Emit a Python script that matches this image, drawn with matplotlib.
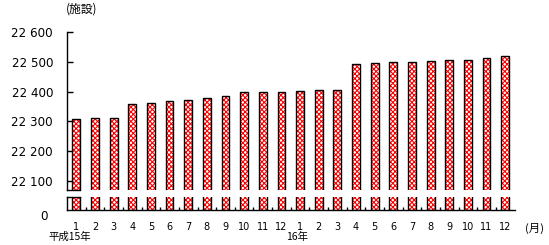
import matplotlib
matplotlib.use("Agg")
import matplotlib.pyplot as plt
import matplotlib.transforms as mtransforms
import numpy as np

months = ["1", "2", "3", "4", "5", "6", "7", "8", "9", "10", "11", "12",
          "1", "2", "3", "4", "5", "6", "7", "8", "9", "10", "11", "12"]
values = [22307, 22310, 22313, 22357, 22363, 22370, 22373, 22377, 22385, 22398, 22398, 22398,
          22401, 22405, 22405, 22492, 22496, 22499, 22499, 22502, 22506, 22506, 22513, 22519]
year_labels = ["平成15年", "16年"]
year_pos = [0, 12]
yticks = [22100, 22200, 22300, 22400, 22500, 22600]
ytick_labels = ["22 100", "22 200", "22 300", "22 400", "22 500", "22 600"]

W, H = 549, 245
fig = plt.figure(figsize=(W / 100, H / 100), dpi=100)
fig.patch.set_facecolor("white")

L, R = 67 / W, 514.5 / W
ax_top = fig.add_axes([L, 1 - 190 / H, R - L, (190 - 32) / H])
ax_bot = fig.add_axes([L, 1 - 210 / H, R - L, 13 / H])

plt.rcParams["hatch.linewidth"] = 0.8
x = np.arange(len(values))
bw = 0.42
cjk = ["Noto Sans CJK JP", "DejaVu Sans"]

for ax in (ax_top, ax_bot):
    ax.bar(x, values, width=bw, facecolor="white", edgecolor="#ff0000",
           hatch="xxxxxxx", linewidth=0)
    ax.bar(x, values, width=bw, fill=False, edgecolor="black", linewidth=1.0)
    ax.set_xlim(-0.5, len(values) - 0.5)
    for s in ("top", "right"):
        ax.spines[s].set_visible(False)
    ax.spines["left"].set_linewidth(1.0)

ax_top.set_ylim(22070, 22600)
ax_top.spines["bottom"].set_visible(False)
ax_top.set_yticks(yticks)
ax_top.set_yticklabels(ytick_labels, fontsize=8.6, family="DejaVu Sans")
ax_top.tick_params(axis="y", direction="in", length=4, width=1.0, pad=10)
ax_top.set_xticks([])
ax_top.plot([-0.5, bw / 2], [22070, 22070], color="black", lw=1.0, clip_on=False)

ax_bot.set_ylim(0, 44)
ax_bot.spines["bottom"].set_linewidth(1.0)
ax_bot.set_yticks([0])
ax_bot.set_yticklabels(["0"], fontsize=8.6, family="DejaVu Sans")
for lab in ax_bot.get_yticklabels():
    lab.set_va("top")
ax_bot.tick_params(axis="y", length=0, pad=14)
ax_bot.set_xticks(x)
ax_bot.set_xticklabels(months, fontsize=7, family="DejaVu Sans")
ax_bot.tick_params(axis="x", which="major", length=0, pad=9)
ax_bot.set_xticks(np.arange(0.5, len(values) - 0.5, 1), minor=True)
ax_bot.tick_params(axis="x", which="minor", direction="in", length=2, width=1.0)
ax_bot.plot([-0.5, bw / 2], [44, 44], color="black", lw=1.0, clip_on=False)

trans = mtransforms.blended_transform_factory(ax_bot.transData, fig.transFigure)
for lbl, p in zip(year_labels, year_pos):
    ax_bot.text(p - (0.35 if p == 0 else 0.15), 1 - 237 / H, lbl, transform=trans,
                ha="center", va="center", fontsize=7.5, family=cjk)

fig.text(535 / W, 1 - 228 / H, "(月)", ha="center", va="center", fontsize=8.2, family=cjk)
fig.text(82 / W, 1 - 9 / H, "(施設)", ha="center", va="center", fontsize=8.5, family=cjk)

fig.savefig("out.png", dpi=100, facecolor="white")
